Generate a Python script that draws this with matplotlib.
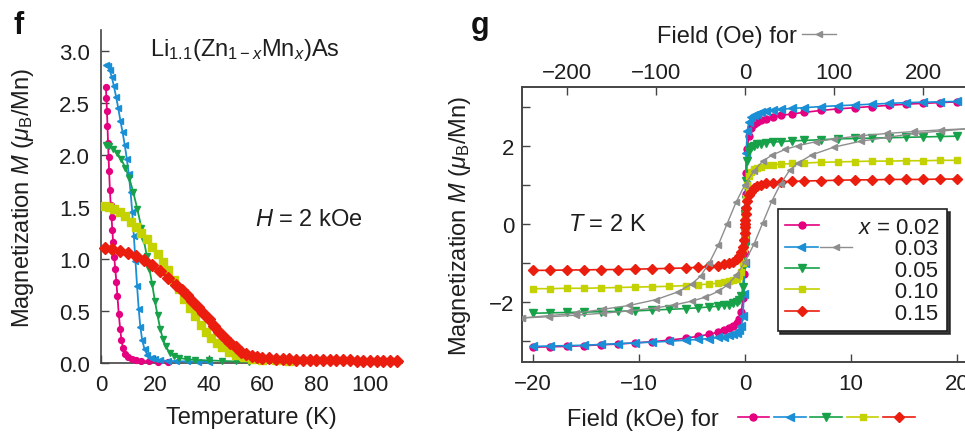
import matplotlib
matplotlib.use('Agg')
import matplotlib.pyplot as plt
from matplotlib.lines import Line2D
from matplotlib.legend_handler import HandlerTuple, HandlerLine2D
from matplotlib.ticker import MultipleLocator

plt.rcParams['font.family'] = ['Liberation Sans', 'DejaVu Sans']
plt.rcParams['mathtext.fontset'] = 'custom'
plt.rcParams['mathtext.rm'] = 'Liberation Sans'
plt.rcParams['mathtext.it'] = 'Liberation Sans:italic'
plt.rcParams['mathtext.bf'] = 'Liberation Sans:bold'
plt.rcParams['axes.unicode_minus'] = True

# ---------------- panel f : M vs T (H = 2 kOe) ----------------
temp_002 = [1.8, 2.0, 2.2, 2.4, 2.6, 2.8, 3.0, 3.3, 3.6, 3.9, 4.2, 4.5, 4.9, 5.3, 5.7, 6.1,
            6.6, 7.1, 7.6, 8.2, 9.0, 10, 11.5, 13, 15, 18, 21, 25]
mag_t_002 = [2.65, 2.55, 2.42, 2.28, 2.12, 1.98, 1.85, 1.66, 1.52, 1.40, 1.28, 1.16, 1.02, 0.9,
             0.78, 0.64, 0.47, 0.33, 0.22, 0.14, 0.09, 0.06, 0.04, 0.03, 0.02, 0.015, 0.01, 0.01]

temp_003 = [1.8, 2.5, 3.2, 4.0, 4.8, 5.6, 6.4, 7.2, 8.0, 8.8, 9.6, 10.3, 11.0, 11.6, 12.2, 12.8,
            13.4, 14.0, 14.6, 15.3, 16.2, 17.2, 18.5, 20, 22, 25, 28, 32, 36, 40]
mag_t_003 = [2.87, 2.86, 2.82, 2.75, 2.66, 2.56, 2.45, 2.33, 2.22, 2.1, 1.96, 1.82, 1.64, 1.45,
             1.22, 0.98, 0.74, 0.52, 0.35, 0.22, 0.13, 0.08, 0.05, 0.035, 0.025, 0.02, 0.018,
             0.015, 0.012, 0.01]

temp_005 = [1.8, 3, 4.5, 6, 7.5, 9, 10.5, 12, 13.5, 15, 16, 17, 18, 19, 20, 21, 22, 23, 24,
            25.5, 27, 29, 32, 35, 40, 45, 50, 55]
mag_t_005 = [2.1, 2.09, 2.06, 2.02, 1.96, 1.88, 1.78, 1.64, 1.48, 1.3, 1.17, 1.03, 0.9, 0.76,
             0.6, 0.46, 0.33, 0.23, 0.16, 0.1, 0.07, 0.05, 0.035, 0.03, 0.025, 0.02, 0.015, 0.01]

temp_010 = [1.5, 3, 5, 7, 9, 11, 13, 15, 17, 19, 21, 23, 25, 27, 29, 31, 33, 35, 37, 39, 41,
            43, 45, 47.5, 50, 53, 56, 60, 65, 70]
mag_t_010 = [1.51, 1.5, 1.48, 1.45, 1.41, 1.36, 1.31, 1.25, 1.19, 1.12, 1.05, 0.97, 0.89, 0.8,
             0.71, 0.62, 0.53, 0.45, 0.37, 0.3, 0.24, 0.19, 0.15, 0.11, 0.08, 0.06, 0.04, 0.03,
             0.025, 0.02]

temp_015 = [1.5, 4, 7, 10, 13, 16, 19, 22, 25, 28, 30, 32, 34, 36, 38, 40, 42, 44, 46, 48, 50,
            52, 54, 56, 58, 60, 62.5, 65, 67.5, 70, 72.5, 75, 77.5, 80, 82.5, 85, 87.5, 90,
            92.5, 95, 97.5, 100, 102.5, 105, 107.5, 110]
mag_t_015 = [1.11, 1.1, 1.08, 1.06, 1.03, 0.99, 0.94, 0.88, 0.82, 0.75, 0.7, 0.65, 0.6, 0.54,
             0.48, 0.42, 0.36, 0.3, 0.24, 0.19, 0.15, 0.11, 0.09, 0.07, 0.06, 0.05, 0.045, 0.04,
             0.038, 0.035, 0.033, 0.03, 0.03, 0.03, 0.028, 0.027, 0.026, 0.025, 0.025, 0.024,
             0.023, 0.023, 0.022, 0.022, 0.021, 0.021]

# ---------------- panel g : M vs H at T = 2 K ----------------
field_koe = [-20, -18.4, -16.8, -15.2, -13.6, -12, -10.4, -8.8, -7.2, -5.6, -4.4, -3.4, -2.6,
             -2.0, -1.5, -1.1, -0.8, -0.55, -0.35, -0.2, -0.1, -0.05, -0.02, 0,
             0.02, 0.05, 0.1, 0.2, 0.35, 0.55, 0.8, 1.1, 1.5, 2.0, 2.6, 3.4, 4.4, 5.6, 7.2,
             8.8, 10.4, 12, 13.6, 15.2, 16.8, 18.4, 20]
mag_h_002 = [-3.17, -3.16, -3.15, -3.13, -3.11, -3.09, -3.06, -3.03, -2.99, -2.94, -2.89, -2.84,
             -2.79, -2.74, -2.69, -2.63, -2.56, -2.46, -2.27, -1.92, -1.3, -0.75, -0.32, 0.0,
             0.32, 0.75, 1.3, 1.9, 2.25, 2.45, 2.54, 2.6, 2.65, 2.69, 2.73, 2.77, 2.81, 2.85,
             2.9, 2.94, 2.97, 3.0, 3.03, 3.06, 3.08, 3.1, 3.12]
mag_h_003 = [-3.15, -3.14, -3.13, -3.12, -3.1, -3.08, -3.06, -3.04, -3.02, -2.99, -2.97, -2.95,
             -2.92, -2.9, -2.87, -2.84, -2.8, -2.74, -2.62, -2.36, -1.8, -1.0, -0.42, 0.0,
             0.42, 1.0, 1.8, 2.36, 2.6, 2.72, 2.78, 2.82, 2.85, 2.88, 2.9, 2.93, 2.95, 2.97,
             3.0, 3.02, 3.04, 3.06, 3.08, 3.1, 3.11, 3.12, 3.13]
mag_h_005 = [-2.3, -2.29, -2.28, -2.27, -2.26, -2.25, -2.24, -2.22, -2.2, -2.18, -2.16, -2.14,
             -2.12, -2.1, -2.08, -2.05, -2.02, -1.97, -1.87, -1.62, -1.1, -0.6, -0.25, 0.0,
             0.25, 0.6, 1.1, 1.6, 1.85, 1.95, 2.0, 2.03, 2.05, 2.07, 2.09, 2.1, 2.12, 2.13,
             2.15, 2.17, 2.18, 2.19, 2.2, 2.21, 2.22, 2.23, 2.24]
mag_h_010 = [-1.67, -1.67, -1.66, -1.66, -1.65, -1.64, -1.63, -1.62, -1.61, -1.59, -1.57, -1.55,
             -1.53, -1.51, -1.48, -1.45, -1.41, -1.35, -1.24, -1.02, -0.66, -0.35, -0.15, 0.0,
             0.15, 0.35, 0.65, 1.0, 1.22, 1.33, 1.39, 1.43, 1.46, 1.49, 1.51, 1.52, 1.54, 1.55,
             1.57, 1.58, 1.59, 1.6, 1.6, 1.61, 1.61, 1.62, 1.62]
mag_h_015 = [-1.2, -1.2, -1.19, -1.19, -1.18, -1.18, -1.17, -1.16, -1.15, -1.14, -1.12, -1.1,
             -1.08, -1.05, -1.02, -0.98, -0.92, -0.84, -0.74, -0.6, -0.42, -0.25, -0.1, 0.0,
             0.1, 0.25, 0.4, 0.58, 0.72, 0.82, 0.9, 0.96, 1.0, 1.03, 1.05, 1.07, 1.08, 1.09,
             1.1, 1.11, 1.12, 1.12, 1.13, 1.13, 1.13, 1.14, 1.14]

# x = 0.03 low-field loop (Oe, top axis)
field_oe_down = [250, 220, 190, 160, 130, 100, 80, 60, 45, 30, 20, 10, 0, -10, -20, -30, -40,
                 -50, -60, -75, -100, -130, -160, -190, -220, -250]
mag_oe_down = [2.43, 2.40, 2.36, 2.31, 2.25, 2.17, 2.10, 2.00, 1.90, 1.75, 1.6, 1.35, 1.0, 0.55,
               0.0, -0.55, -1.0, -1.35, -1.55, -1.75, -1.95, -2.1, -2.2, -2.3, -2.36, -2.42]
field_oe_up = [-250, -220, -190, -160, -130, -100, -80, -60, -45, -30, -20, -10, 0, 10, 20, 30,
               40, 50, 60, 75, 100, 130, 160, 190, 220, 250]
mag_oe_up = [-2.42, -2.39, -2.35, -2.3, -2.24, -2.16, -2.09, -1.99, -1.89, -1.74, -1.58, -1.33,
             -0.98, -0.53, 0.02, 0.57, 1.02, 1.36, 1.56, 1.76, 1.96, 2.11, 2.21, 2.31, 2.37, 2.43]

legend_labels = [r'$x$ = 0.02', '      0.03', '      0.05', '      0.10', '      0.15']

# ---------------- styles ----------------
colors = ['#e4007f', '#1a8fd6', '#17a24a', '#c3d200', '#ea1d0e']
gray = '#8e8e8e'
markers = ['o', '<', 'v', 's', 'D']
ms_f = [4.2, 4.6, 4.8, 5.6, 6.4]
lw_f = [1.3, 1.3, 1.3, 1.8, 2.2]
ms_g = [5.0, 5.5, 5.5, 4.6, 4.8]
txt = '#1e1e1e'
spine_c = '#444444'

fig = plt.figure(figsize=(9.65, 4.35), dpi=100)

# ---- panel f ----
axf = fig.add_axes([0.1047, 0.1632, 0.3122, 0.765])
series_t = [(temp_002, mag_t_002), (temp_003, mag_t_003), (temp_005, mag_t_005),
            (temp_010, mag_t_010), (temp_015, mag_t_015)]
for i, (tt, mm) in enumerate(series_t):
    axf.plot(tt, mm, color=colors[i], marker=markers[i], ms=ms_f[i], lw=lw_f[i],
             mec=colors[i], clip_on=False, zorder=3 + i)
axf.set_xlim(0, 112)
axf.set_ylim(0, 3.2)
axf.xaxis.set_major_locator(MultipleLocator(20))
axf.yaxis.set_major_locator(MultipleLocator(0.5))
axf.yaxis.set_major_formatter(matplotlib.ticker.FormatStrFormatter('%.1f'))
for s in ['top', 'right']:
    axf.spines[s].set_visible(False)
for s in ['left', 'bottom']:
    axf.spines[s].set_color(spine_c)
    axf.spines[s].set_linewidth(1.2)
axf.tick_params(direction='in', length=6, width=1, color=spine_c, labelsize=16,
                labelcolor=txt, pad=8)
axf.set_xlabel('Temperature (K)', fontsize=17, color=txt)
axf.set_ylabel(r'Magnetization $M$ ($\mu_{\mathrm{B}}$/Mn)', fontsize=17, color=txt)
axf.xaxis.set_label_coords(0.5, -0.13)
axf.yaxis.set_label_coords(-0.215, 0.5)
axf.text(0.163, 0.943, r'Li$_{1.1}$(Zn$_{1-x}$Mn$_{x}$)As', transform=axf.transAxes,
         fontsize=17, color=txt, ha='left', va='center')
axf.text(0.512, 0.432, r'$H$ = 2 kOe', transform=axf.transAxes, fontsize=17, color=txt,
         ha='left', va='center')
fig.text(0.019, 0.94, 'f', fontsize=22, fontweight='bold', color='#111', ha='center',
         va='center')

# ---- panel g ----
axg = fig.add_axes([0.5414, 0.1655, 0.4647, 0.6322])
series_h = [mag_h_002, mag_h_003, mag_h_005, mag_h_010, mag_h_015]
lines_g = []
for i, mm in enumerate(series_h):
    ln, = axg.plot(field_koe, mm, color=colors[i], marker=markers[i], ms=ms_g[i], lw=1.2,
                   mec=colors[i], zorder=3 + i)
    lines_g.append(ln)
axg.set_xlim(-21, 21.3)
axg.set_ylim(-3.55, 3.5)
axg.xaxis.set_major_locator(MultipleLocator(10))
axg.yaxis.set_major_locator(MultipleLocator(2))
axg.yaxis.set_minor_locator(MultipleLocator(1))
for s in ['left', 'bottom', 'top', 'right']:
    axg.spines[s].set_color(spine_c)
    axg.spines[s].set_linewidth(1.2)
axg.tick_params(which='both', direction='in', length=6, width=1, color=spine_c,
                labelsize=16, labelcolor=txt)
axg.tick_params(axis='y', pad=6)
axg.tick_params(axis='x', pad=8)
axg.set_ylabel(r'Magnetization $M$ ($\mu_{\mathrm{B}}$/Mn)', fontsize=17, color=txt)
axg.yaxis.set_label_coords(-0.11, 0.5)
axg.text(0.102, 0.502, r'$T$ = 2 K', transform=axg.transAxes, fontsize=17, color=txt,
         ha='left', va='center')
fig.text(0.497, 0.94, 'g', fontsize=22, fontweight='bold', color='#111', ha='center',
         va='center')

axt = axg.twiny()
axt.set_xlim(-250, 253.7)
axt.set_ylim(axg.get_ylim())
ln_up, = axt.plot(field_oe_up, mag_oe_up, color=gray, marker='<', ms=4.5, lw=1.0, mec=gray,
                  zorder=3)
axt.plot(field_oe_down, mag_oe_down, color=gray, marker='<', ms=4.5, lw=1.0, mec=gray,
         zorder=3)
axt.xaxis.set_major_locator(MultipleLocator(100))
axt.tick_params(axis='x', direction='in', length=6, width=1, color=spine_c, labelsize=16,
                labelcolor=txt, pad=3)
for s in axt.spines.values():
    s.set_color(spine_c)
    s.set_linewidth(1.2)


class HalfLine(HandlerLine2D):
    def create_artists(self, legend, orig_handle, xdescent, ydescent, width, height,
                       fontsize, trans):
        return super().create_artists(legend, orig_handle, xdescent, ydescent, width / 2,
                                      height, fontsize, trans)


handles = [lines_g[0], (lines_g[1], ln_up), lines_g[2], lines_g[3], lines_g[4]]
hmap = {lines_g[0]: HalfLine(), lines_g[2]: HalfLine(), lines_g[3]: HalfLine(),
        lines_g[4]: HalfLine(), tuple: HandlerTuple(ndivide=None, pad=0.1)}
leg = axt.legend(handles, legend_labels, handler_map=hmap, loc='upper left',
                 bbox_to_anchor=(0.569, 0.556), borderaxespad=0, fontsize=16, numpoints=1,
                 handlelength=3.0, handletextpad=0.25, borderpad=0.35, labelspacing=0.02,
                 fancybox=False, frameon=True, edgecolor='#222', framealpha=1,
                 shadow={'color': '#222', 'alpha': 0.9})
leg.get_frame().set_linewidth(1.2)
for t in leg.get_texts():
    t.set_color(txt)

# axis titles with symbol keys
lb = fig.legend([tuple(lines_g)], ['Field (kOe) for'], markerfirst=False, frameon=False,
                handler_map={tuple: HandlerTuple(ndivide=None, pad=0.21)}, numpoints=1,
                handlelength=7.5, handletextpad=0.8, fontsize=17, loc='center left',
                bbox_to_anchor=(0.5876, 0.0345), borderpad=0, borderaxespad=0)
for t in lb.get_texts():
    t.set_color(txt)
lt = fig.legend([ln_up], ['Field (Oe) for'], markerfirst=False, frameon=False, numpoints=1,
                handlelength=1.45, handletextpad=0.2, fontsize=17, loc='center left',
                bbox_to_anchor=(0.681, 0.915), borderpad=0, borderaxespad=0)
for t in lt.get_texts():
    t.set_color(txt)

fig.savefig('out.png', dpi=100)
